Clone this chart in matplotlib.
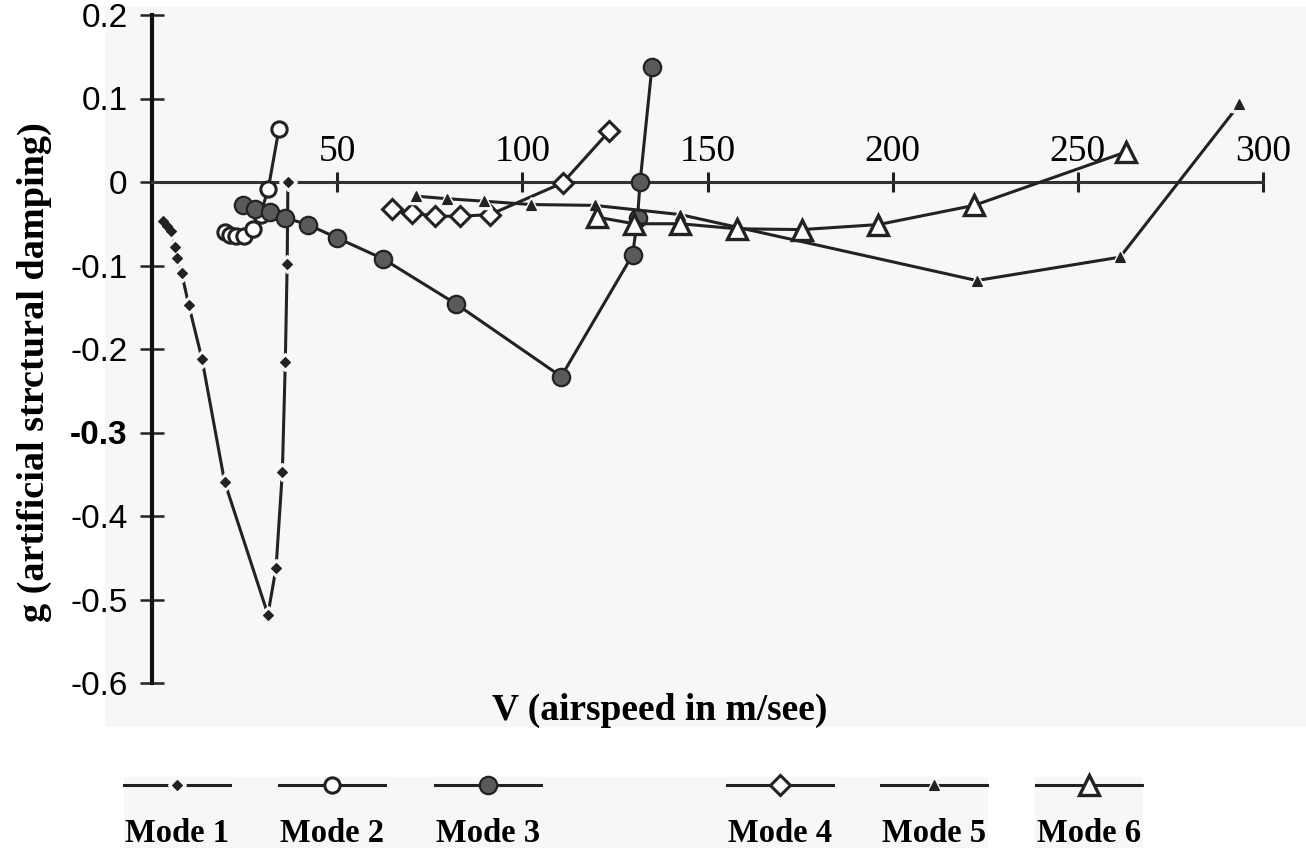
import matplotlib.pyplot as plt
from matplotlib.patches import Rectangle

# airspeed V (m/s) against artificial structural damping g, one pair per mode
mode1_v = [3.0, 4.0, 5.0, 6.2, 6.7, 8.0, 9.9, 13.5, 19.6, 31.3, 33.5, 35.2, 36.0, 36.5, 36.7]
mode1_g = [-0.047, -0.053, -0.059, -0.078, -0.091, -0.109, -0.147, -0.212, -0.359,
           -0.518, -0.462, -0.347, -0.215, -0.098, 0.0]

mode2_v = [19.6, 21.0, 22.8, 24.9, 27.3, 29.3, 31.4, 34.3]
mode2_g = [-0.060, -0.063, -0.065, -0.065, -0.056, -0.039, -0.008, 0.064]

mode3_v = [24.6, 27.8, 31.9, 36.0, 42.1, 50.0, 62.4, 82.1, 110.5, 129.8, 131.1, 131.8, 135.0]
mode3_g = [-0.027, -0.032, -0.036, -0.043, -0.051, -0.067, -0.092, -0.146, -0.233,
           -0.087, -0.043, 0.0, 0.138]

mode4_v = [64.7, 70.1, 76.4, 83.2, 91.3, 110.9, 123.5]
mode4_g = [-0.032, -0.037, -0.041, -0.041, -0.039, -0.001, 0.061]

mode5_v = [71.4, 79.6, 89.7, 102.3, 119.5, 142.6, 222.7, 261.4, 293.6]
mode5_g = [-0.017, -0.020, -0.023, -0.027, -0.028, -0.039, -0.118, -0.090, 0.093]

mode6_v = [120.1, 130.2, 142.6, 157.9, 175.4, 196.1, 222.0, 263.0]
mode6_g = [-0.042, -0.050, -0.050, -0.056, -0.057, -0.051, -0.028, 0.036]

mode_labels = ['Mode 1', 'Mode 2', 'Mode 3', 'Mode 4', 'Mode 5', 'Mode 6']

x_ticks = [50, 100, 150, 200, 250, 300]
y_ticks = [0.2, 0.1, 0, -0.1, -0.2, -0.3, -0.4, -0.5, -0.6]
y_ticklabels = ['0.2', '0.1', '0', '-0.1', '-0.2', '-0.3', '-0.4', '-0.5', '-0.6']

BG = '#f7f7f7'
INK = '#222222'
W, H = 1306, 848

# (marker style, halo size) - a halo in the background colour leaves a small
# gap in the line around the small solid markers of modes 1 and 5
styles = [
    (dict(marker='D', ms=5.5, mfc=INK, mec=INK, mew=0.8), 9),
    (dict(marker='o', ms=11, mfc='white', mec=INK, mew=2.2), None),
    (dict(marker='o', ms=12.5, mfc='#5a5a5a', mec=INK, mew=1.6), None),
    (dict(marker='D', ms=10, mfc='white', mec=INK, mew=2.2), None),
    (dict(marker='^', ms=7, mfc=INK, mec=INK, mew=0.8), 11),
    (dict(marker='^', ms=15, mfc='white', mec=INK, mew=2.4), None),
]
series = [(mode1_v, mode1_g), (mode2_v, mode2_g), (mode3_v, mode3_g),
          (mode4_v, mode4_g), (mode5_v, mode5_g), (mode6_v, mode6_g)]


def draw_mode(target, v, g, style, halo, markevery=None, z=3):
    target.plot(v, g, color=INK, lw=2.2, clip_on=False, zorder=z)
    if halo:
        target.plot(v, g, ls='none', marker=style['marker'], ms=halo, mfc=BG, mec=BG,
                    markevery=markevery, clip_on=False, zorder=z)
    target.plot(v, g, ls='none', markevery=markevery, clip_on=False, zorder=z, **style)


fig = plt.figure(figsize=(W / 100, H / 100), dpi=100)
fig.patch.set_facecolor('white')

# grey panels behind the plot and the legend strip, in pixel units
bg = fig.add_axes([0, 0, 1, 1], zorder=-1)
bg.set_xlim(0, W)
bg.set_ylim(H, 0)
bg.axis('off')
bg.add_patch(Rectangle((105, 7), W - 105, 720, color=BG, lw=0))
bg.add_patch(Rectangle((124, 777), 864, 71, color=BG, lw=0))
bg.add_patch(Rectangle((1035, 777), 108, 71, color=BG, lw=0))

ax = fig.add_axes([152 / W, 1 - 683 / H, (1263 - 152) / W, (683 - 15) / H], zorder=1)
ax.patch.set_visible(False)
ax.set_xlim(0, 300)
ax.set_ylim(-0.6, 0.2)

# horizontal axis runs along g = 0 with its labels above it
ax.spines['right'].set_visible(False)
ax.spines['bottom'].set_visible(False)
ax.spines['top'].set_position(('data', 0))
ax.spines['top'].set_linewidth(2.2)
ax.spines['top'].set_color('#333333')
ax.spines['left'].set_linewidth(3.0)
ax.spines['left'].set_color('#111111')

ax.xaxis.set_ticks_position('top')
ax.set_xticks(x_ticks)
ax.set_xticklabels([str(t) for t in x_ticks], family='Liberation Serif', fontsize=27)
ax.tick_params(axis='x', direction='inout', length=15, width=2.2, color=INK, pad=2)

ax.set_yticks(y_ticks)
ax.set_yticklabels(y_ticklabels, family='Liberation Sans', fontsize=24)
ax.tick_params(axis='y', direction='inout', length=17, width=1.8, color=INK, pad=9)
for lab in ax.get_yticklabels():
    if lab.get_text() == '-0.3':
        lab.set_fontweight('bold')

for (v, g), (st, halo) in zip(series, styles):
    draw_mode(ax, v, g, st, halo)

fig.text(660 / W, 1 - 720 / H, 'V (airspeed in m/see)', ha='center', va='baseline',
         family='Liberation Serif', weight='bold', fontsize=27)
fig.text(34 / W, 1 - 372 / H, 'g (artificial strctural damping)', ha='center', va='center',
         rotation=90, family='Liberation Serif', weight='bold', fontsize=27.5)

# legend strip along the bottom: sample line above each mode name
lax = fig.add_axes([0, 0, 1, 1], zorder=2)
lax.set_xlim(0, W)
lax.set_ylim(H, 0)
lax.axis('off')
centers = [177, 332, 488, 780, 934, 1089]
for c, lab, (st, halo) in zip(centers, mode_labels, styles):
    draw_mode(lax, [c - 53, c, c + 53], [785, 785, 785], st, halo, markevery=[1])
    lax.text(c, 842, lab, ha='center', va='baseline', family='Liberation Serif',
             weight='bold', fontsize=23.5)

fig.savefig('out.png', dpi=100)
